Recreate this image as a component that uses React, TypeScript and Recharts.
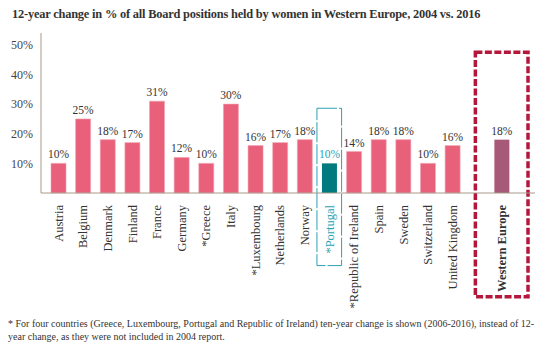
import { BarChart, Bar, XAxis, YAxis, Cell, ReferenceArea } from "recharts";

const countries = [
    "Austria",
    "Belgium",
    "Denmark",
    "Finland",
    "France",
    "Germany",
    "*Greece",
    "Italy",
    "*Luxembourg",
    "Netherlands",
    "Norway",
    "*Portugal",
    "*Republic of Ireland",
    "Spain",
    "Sweden",
    "Switzerland",
    "United Kingdom",
    "",
    "Western Europe",
];
const changes: (number | null)[] = [10, 25, 18, 17, 31, 12, 10, 30, 16, 17, 18, 10, 14, 18, 18, 10, 16, null, 18];
const yTicks = [10, 20, 30, 40, 50];

const PINK = "#E8607A";
const TEAL = "#007A7E";
const TEAL_LIGHT = "#2BA2B2";
const WE_COLOR = "#A65A78";
const RED = "#B5173A";
const FONT = "'Liberation Serif', serif";

const data = countries.map((name, i) => ({ name, value: changes[i] }));

const barColor = (name: string) =>
    name === "*Portugal" ? TEAL : name === "Western Europe" ? WE_COLOR : PINK;

const renderTick = (props: any) => {
    const { x, y, payload } = props;
    const name = payload.value as string;
    if (!name) return <g />;
    return (
        <text
            x={x}
            y={y + 4}
            dy="0.35em"
            transform={`rotate(-90, ${x}, ${y + 4})`}
            textAnchor="end"
            fontFamily={FONT}
            fontSize={12.5}
            fontWeight={name === "Western Europe" ? "bold" : "normal"}
            fill={name === "*Portugal" ? TEAL_LIGHT : "#333"}
        >
            {name}
        </text>
    );
};

const renderLabel = (props: any) => {
    const { x, y, width, value, index } = props;
    if (value == null) return <g />;
    return (
        <text
            x={x + width / 2}
            y={y - 5}
            textAnchor="middle"
            fontFamily={FONT}
            fontSize={11.5}
            fill={countries[index] === "*Portugal" ? TEAL_LIGHT : "#333"}
        >
            {value}%
        </text>
    );
};

// dashed frame, widened a bit past the category band
const frame = (color: string, width: number, dash: string, pad: number) => (props: any) => {
    const { x, y, width: w, height: h } = props;
    return (
        <rect
            x={x - pad}
            y={y}
            width={w + pad * 2}
            height={h}
            fill="none"
            stroke={color}
            strokeWidth={width}
            strokeDasharray={dash}
        />
    );
};

export default function App() {
    return (
        <div style={{ position: "absolute", left: 0, top: 0, width: 559, height: 353, background: "#fff" }}>
            <div
                style={{
                    position: "absolute",
                    left: 12,
                    top: 7,
                    fontFamily: FONT,
                    fontWeight: "bold",
                    fontSize: 12.4,
                    letterSpacing: -0.2,
                    color: "#333",
                    whiteSpace: "nowrap",
                }}
            >
                12-year change in % of all Board positions held by women in Western Europe, 2004 vs. 2016
            </div>
            <BarChart
                width={559}
                height={353}
                data={data}
                margin={{ top: 33, right: 24, left: 8, bottom: 130 }}
                barSize={15}
            >
                <XAxis
                    dataKey="name"
                    interval={0}
                    tickLine={false}
                    axisLine={{ stroke: "#A89A8C" }}
                    tick={renderTick}
                    padding={{ left: 5, right: 21 }}
                />
                <YAxis
                    width={33}
                    domain={[0, 54]}
                    ticks={yTicks}
                    tickLine={false}
                    axisLine={{ stroke: "#A89A8C" }}
                    tickFormatter={(v) => `${v}%`}
                    tick={{ fontFamily: FONT, fontSize: 12, fill: "#444" }}
                />
                <ReferenceArea
                    x1="*Portugal"
                    x2="*Portugal"
                    y1={-24.5}
                    y2={28.6}
                    ifOverflow="visible"
                    shape={frame(TEAL_LIGHT, 1, "20 2", 0)}
                />
                <ReferenceArea
                    x1="Western Europe"
                    x2="Western Europe"
                    y1={-35}
                    y2={47.5}
                    ifOverflow="visible"
                    shape={frame(RED, 3.5, "7 2.5", 14)}
                />
                <Bar dataKey="value" isAnimationActive={false} label={renderLabel}>
                    {data.map((d) => (
                        <Cell
                            key={d.name || "gap"}
                            fill={barColor(d.name)}
                            stroke={d.name === "*Portugal" || d.name === "Western Europe" ? "none" : "#F4A3B2"}
                            strokeWidth={0.6}
                        />
                    ))}
                </Bar>
            </BarChart>
            <div
                style={{
                    position: "absolute",
                    left: 8,
                    top: 317,
                    width: 538,
                    fontFamily: FONT,
                    fontSize: 10,
                    lineHeight: "13px",
                    color: "#333",
                }}
            >
                * For four countries (Greece, Luxembourg, Portugal and Republic of Ireland) ten-year change is shown (2006-2016), instead of 12-year change, as they were not included in 2004 report.
            </div>
        </div>
    );
}
